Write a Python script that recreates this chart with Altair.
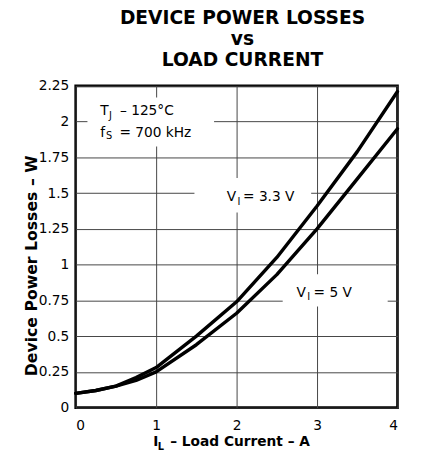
import altair as alt
import pandas as pd

FONT = "DejaVu Sans"

# ---- data ----
current = [0, 0.25, 0.5, 0.75, 1.0, 1.5, 2.0, 2.5, 3.0, 3.5, 4.0]
loss_33 = [0.10, 0.12, 0.15, 0.21, 0.28, 0.50, 0.74, 1.05, 1.41, 1.79, 2.21]
loss_5 = [0.10, 0.12, 0.15, 0.19, 0.25, 0.44, 0.66, 0.93, 1.25, 1.60, 1.95]
series_names = ["VI = 3.3 V", "VI = 5 V"]

x_ticks = [0, 1, 2, 3, 4]
y_ticks = [0, 0.25, 0.5, 0.75, 1, 1.25, 1.5, 1.75, 2, 2.25]

# annotation label pieces (text, x, y in data units, font size, bold)
ann_text = ["T", "J", "– 125°C", "f", "S", "= 700 kHz",
            "V", "I", "= 3.3 V", "V", "I", "= 5 V",
            "I", "L", "– Load Current – A"]
ann_x = [0.305, 0.415, 0.55, 0.305, 0.378, 0.543,
         1.878, 2.012, 2.08, 2.744, 2.878, 2.957,
         0.963, 1.02, 1.175]
ann_y = [2.044, 2.017, 2.044, 1.893, 1.880, 1.893,
         1.447, 1.420, 1.447, 0.775, 0.755, 0.775,
         -0.268, -0.295, -0.268]
ann_size = [14, 10, 14, 14, 10, 14,
            14, 10, 14, 14, 10, 14,
            14, 10, 14]
ann_bold = [False] * 12 + [True] * 3

# white label backgrounds that break the grid lines
box_x0 = [0.146, 1.476, 2.573]
box_x1 = [1.72, 2.927, 3.878]
box_y0 = [1.825, 1.365, 0.707]
box_y1 = [2.168, 1.605, 0.933]

df_lines = pd.DataFrame({
    "current": current * 2,
    "loss": loss_33 + loss_5,
    "series": [series_names[0]] * len(current) + [series_names[1]] * len(current),
})
df_ann = pd.DataFrame({"text": ann_text, "current": ann_x, "loss": ann_y,
                       "size": ann_size, "bold": ann_bold})
df_box = pd.DataFrame({"current": box_x0, "current2": box_x1,
                       "loss": box_y0, "loss2": box_y1})

x_scale = alt.Scale(domain=[0, 4], nice=False, zero=False)
y_scale = alt.Scale(domain=[0, 2.25], nice=False, zero=False)

x_axis = alt.Axis(values=x_ticks, format="d", title=None, grid=True,
                  labelPadding=11)
y_axis = alt.Axis(values=y_ticks, format=".2~f", title="Device Power Losses – W",
                  grid=True, labelPadding=7, titleX=-40, titleY=183,
                  titleBaseline="alphabetic", titleFontSize=16,
                  titleFontWeight="bold", titleFont=FONT, titleColor="black")


def X(field="current"):
    return alt.X(f"{field}:Q", scale=x_scale, axis=x_axis)


def Y(field="loss"):
    return alt.Y(f"{field}:Q", scale=y_scale, axis=y_axis)


boxes = alt.Chart(df_box).mark_rect(color="white").encode(
    x=X(), x2="current2:Q", y=Y(), y2="loss2:Q"
)

lines = alt.Chart(df_lines).mark_line(
    color="black", strokeWidth=3.5, strokeJoin="round", strokeCap="round"
).encode(x=X(), y=Y(), detail="series:N")

txt_regular = alt.Chart(df_ann).transform_filter("!datum.bold").mark_text(
    font=FONT, align="left", baseline="alphabetic", color="black"
).encode(x=X(), y=Y(), text="text:N", size=alt.Size("size:Q", scale=None, legend=None))

txt_bold = alt.Chart(df_ann).transform_filter("datum.bold").mark_text(
    font=FONT, align="left", baseline="alphabetic", color="black", fontWeight="bold"
).encode(x=X(), y=Y(), text="text:N", size=alt.Size("size:Q", scale=None, legend=None))

chart = alt.layer(boxes, lines, txt_regular, txt_bold).properties(
    width=328,
    height=328,
    autosize=alt.AutoSizeParams(type="none"),
    padding={"left": 69, "top": 75, "right": 26, "bottom": 47},
    title=alt.TitleParams(
        text=["DEVICE POWER LOSSES", "vs", "LOAD CURRENT"],
        font=FONT, fontSize=19, fontWeight="bold", lineHeight=21.5,
        anchor="middle", frame="group", dx=6, baseline="bottom", offset=-10,
        color="black",
    ),
).configure_view(
    stroke="black", strokeWidth=2.7
).configure_axis(
    domain=False, ticks=False, gridColor="#444444", gridWidth=1, gridOpacity=1,
    labelFont=FONT, labelFontSize=14, labelColor="black",
)

chart.save("out.html", embed_options={"renderer": "svg", "actions": False})
